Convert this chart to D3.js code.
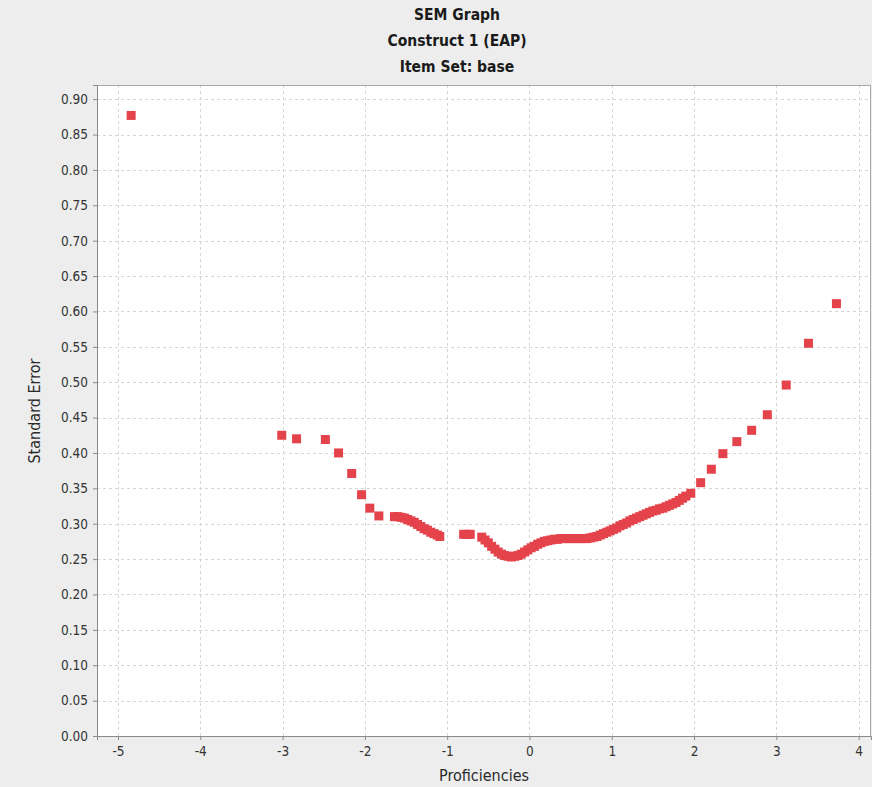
<!DOCTYPE html>
<html>
<head>
<meta charset="utf-8">
<script src="https://cdn.jsdelivr.net/npm/d3@7"></script>
<style>
  html, body { margin: 0; padding: 0; background: #ededed; }
  svg { display: block; }
  text { font-family: "DejaVu Sans Condensed", "DejaVu Sans", sans-serif; font-stretch: condensed; }
</style>
</head>
<body>
<svg id="chart" width="872" height="787"></svg>
<script>
// Chart text
const titleLines = ["SEM Graph", "Construct 1 (EAP)", "Item Set: base"];
const xTitle = "Proficiencies";
const yTitle = "Standard Error";

// Tick values
const xTicks = [-5, -4, -3, -2, -1, 0, 1, 2, 3, 4];
const yTicks = [0, 0.05, 0.10, 0.15, 0.20, 0.25, 0.30, 0.35, 0.40, 0.45, 0.50, 0.55, 0.60, 0.65, 0.70, 0.75, 0.80, 0.85, 0.90];

// Proficiency estimates (theta) and their standard errors
const theta = [
  -4.84,
  -3.01, -2.83, -2.48, -2.32, -2.16, -2.04, -1.94, -1.83,
  -1.64, -1.60, -1.56, -1.52, -1.48, -1.44, -1.40, -1.36, -1.32, -1.28, -1.24, -1.20, -1.16, -1.12, -1.09,
  -0.80, -0.76, -0.72,
  -0.58, -0.54, -0.50, -0.46, -0.42, -0.38, -0.34, -0.30, -0.26, -0.22, -0.18, -0.14, -0.10, -0.06, -0.02,
  0.02, 0.06, 0.10, 0.14, 0.18, 0.22, 0.26, 0.30, 0.34, 0.38, 0.42, 0.46, 0.50, 0.54, 0.58, 0.62, 0.66, 0.70,
  0.74, 0.78, 0.82, 0.86, 0.90, 0.94, 0.98, 1.02, 1.06, 1.10, 1.14, 1.18, 1.22, 1.26, 1.30, 1.34, 1.38, 1.42,
  1.46, 1.50, 1.54, 1.58, 1.62, 1.66, 1.70, 1.74, 1.78, 1.82, 1.86, 1.90,
  1.96, 2.08, 2.21, 2.35, 2.52, 2.70, 2.89, 3.12, 3.39, 3.73
];
const sem = [
  0.877,
  0.425, 0.420, 0.419, 0.400, 0.371, 0.341, 0.322, 0.311,
  0.310, 0.310, 0.309, 0.308, 0.306, 0.304, 0.302, 0.299, 0.296, 0.293, 0.291, 0.288, 0.286, 0.284, 0.282,
  0.285, 0.285, 0.285,
  0.281, 0.277, 0.273, 0.268, 0.264, 0.260, 0.257, 0.255, 0.254, 0.253, 0.254, 0.255, 0.257, 0.260, 0.263,
  0.266, 0.268, 0.271, 0.273, 0.275, 0.276, 0.277, 0.278, 0.278, 0.279, 0.279, 0.279, 0.279, 0.279, 0.279, 0.279, 0.279, 0.279,
  0.280, 0.281, 0.282, 0.284, 0.286, 0.288, 0.290, 0.292, 0.294, 0.297, 0.299, 0.301, 0.304, 0.306, 0.308, 0.310, 0.312, 0.314,
  0.316, 0.318, 0.319, 0.321, 0.322, 0.324, 0.326, 0.328, 0.330, 0.333, 0.336, 0.339,
  0.343, 0.358, 0.377, 0.399, 0.416, 0.432, 0.454, 0.496, 0.555, 0.611
];

const svg = d3.select("#chart");
const plot = { left: 97, right: 871, top: 85, bottom: 736 };

const x = d3.scaleLinear().domain([-5.255, 4.15]).range([plot.left, plot.right]);
const y = d3.scaleLinear().domain([0, 0.92]).range([plot.bottom, plot.top]);

// Plot background
svg.append("rect")
  .attr("x", plot.left).attr("y", plot.top)
  .attr("width", plot.right - plot.left).attr("height", plot.bottom - plot.top)
  .attr("fill", "#ffffff");

// Dashed grid lines
const grid = svg.append("g").attr("stroke", "#d6d6d6").attr("stroke-width", 1)
  .attr("stroke-dasharray", "3,3");
grid.selectAll("line.h").data(yTicks.filter(d => d > 0)).join("line")
  .attr("class", "h")
  .attr("x1", plot.left).attr("x2", plot.right)
  .attr("y1", d => Math.round(y(d)) + 0.5).attr("y2", d => Math.round(y(d)) + 0.5);
grid.selectAll("line.v").data(xTicks).join("line")
  .attr("class", "v")
  .attr("y1", plot.top).attr("y2", plot.bottom)
  .attr("x1", d => Math.round(x(d)) + 0.5).attr("x2", d => Math.round(x(d)) + 0.5);

// Plot border
svg.append("rect")
  .attr("x", plot.left + 0.5).attr("y", plot.top + 0.5)
  .attr("width", plot.right - plot.left - 1).attr("height", plot.bottom - plot.top)
  .attr("fill", "none").attr("stroke", "#a8a8a8");

// Axes
const yAxis = svg.append("g")
  .attr("transform", `translate(${plot.left},0)`)
  .call(d3.axisLeft(y).tickValues(yTicks).tickFormat(d3.format(".2f")).tickSize(4).tickPadding(5));
const xAxis = svg.append("g")
  .attr("transform", `translate(0,${plot.bottom})`)
  .call(d3.axisBottom(x).tickValues(xTicks).tickFormat(d => d < 0 ? "-" + Math.abs(d) : d).tickSize(4).tickPadding(6));

[yAxis, xAxis].forEach(a => {
  a.select(".domain").attr("stroke", "#8a8a8a");
  a.selectAll(".tick line").attr("stroke", "#8a8a8a");
  a.selectAll(".tick text").attr("fill", "#333333").style("font-size", "13.5px")
    .style("font-family", "'DejaVu Sans Condensed', 'DejaVu Sans', sans-serif");
});

// Data points
const size = 9;
svg.append("g").selectAll("rect.pt")
  .data(theta.map((t, i) => ({ t, s: sem[i] })))
  .join("rect")
  .attr("class", "pt")
  .attr("x", d => x(d.t) - size / 2)
  .attr("y", d => y(d.s) - size / 2)
  .attr("width", size).attr("height", size)
  .attr("fill", "#e5434b");

// Titles
const titleG = svg.append("g").attr("text-anchor", "middle")
  .attr("font-weight", "bold").attr("fill", "#1a1a1a").style("font-size", "15.5px");
titleLines.forEach((t, i) => {
  titleG.append("text").attr("x", 457).attr("y", 20 + i * 26).text(t);
});

svg.append("text")
  .attr("x", 484).attr("y", 781)
  .attr("text-anchor", "middle").attr("fill", "#2a2a2a").style("font-size", "16px")
  .text(xTitle);

svg.append("text")
  .attr("transform", `translate(40,411) rotate(-90)`)
  .attr("text-anchor", "middle").attr("fill", "#2a2a2a").style("font-size", "16px")
  .text(yTitle);
</script>
</body>
</html>
